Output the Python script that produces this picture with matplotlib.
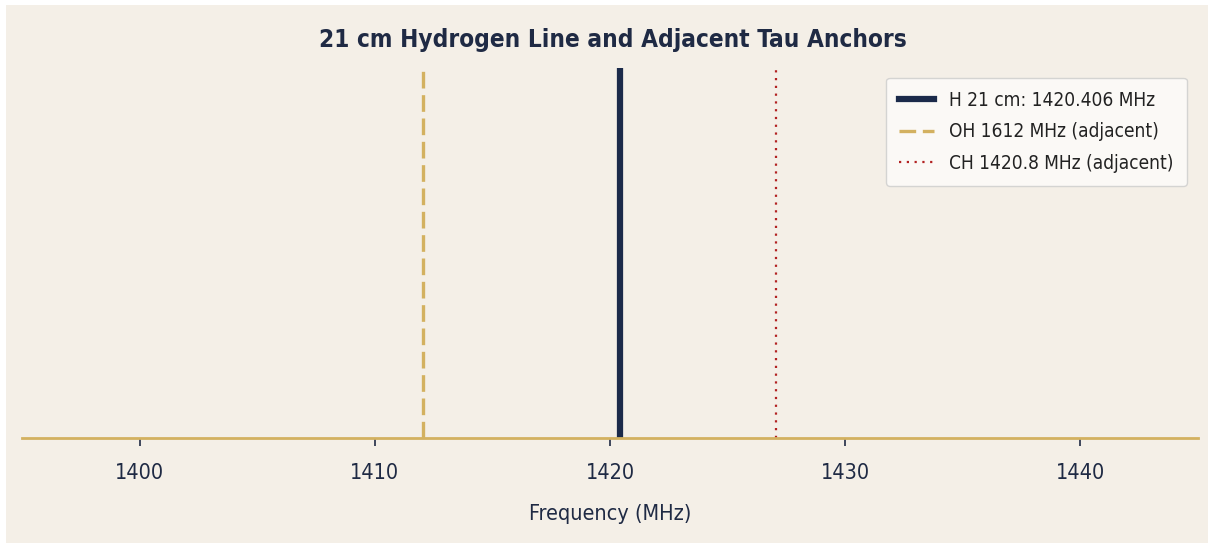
import matplotlib.pyplot as plt
from matplotlib.patches import Rectangle

# line positions (MHz)
line_labels = ["H 21 cm: 1420.406 MHz", "OH 1612 MHz (adjacent)", "CH 1420.8 MHz (adjacent)"]
line_freqs = [1420.406, 1412.05, 1427.05]
line_colors = ["#1b2a4a", "#d3b160", "#b22222"]
line_dashes = [None, (5, 2), (1, 2.5)]
line_widths = [4.5, 2.4, 1.6]

x_ticks = [1400, 1410, 1420, 1430, 1440]

bg = "#f4efe7"
navy = "#1f2a44"

plt.rcParams["font.family"] = "DejaVu Sans"
plt.rcParams["font.stretch"] = "condensed"

fig = plt.figure(figsize=(12.13, 5.48), dpi=100, facecolor="white")
fig.patches.append(Rectangle((6 / 1213, 5 / 548), 1202 / 1213, 538 / 548,
                             transform=fig.transFigure, facecolor=bg, edgecolor="none", zorder=-10))
ax = fig.add_axes([22 / 1213, 110 / 548, 1176 / 1213, 370 / 548])
ax.set_facecolor(bg)

for f, lab, c, d, lw in zip(line_freqs, line_labels, line_colors, line_dashes, line_widths):
    ln = ax.axvline(f, color=c, linewidth=lw, label=lab)
    if d is not None:
        ln.set_dashes(d)

ax.set_xlim(1395, 1445)
ax.set_ylim(0, 1)
ax.set_yticks([])
ax.set_xticks(x_ticks)
for s in ["top", "right", "left"]:
    ax.spines[s].set_visible(False)
ax.spines["bottom"].set_color("#d3b160")
ax.spines["bottom"].set_linewidth(2)
ax.tick_params(axis="x", colors=navy, labelsize=15.5, length=6, width=1.2, pad=12)
ax.set_xlabel("Frequency (MHz)", fontsize=15.5, color=navy, labelpad=15)
fig.text(0.505, 0.927, "21 cm Hydrogen Line and Adjacent Tau Anchors", ha="center", va="center",
         fontsize=17.5, fontweight="bold", color=navy)

leg = ax.legend(loc="upper right", fontsize=13.7, frameon=True, facecolor="#fdfcfa",
                edgecolor="#cccccc", handlelength=1.8, labelspacing=0.65, borderpad=0.7,
                bbox_to_anchor=(0.9985, 1.0))
for t in leg.get_texts():
    t.set_color("#222222")

fig.savefig("out.png", dpi=100, facecolor="white")
